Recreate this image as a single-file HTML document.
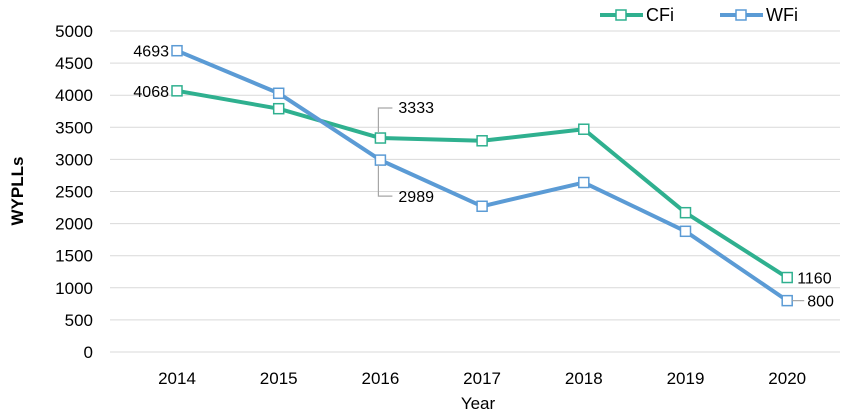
<!DOCTYPE html>
<html><head><meta charset="utf-8"><style>
body{margin:0;background:#fff;width:850px;height:415px;overflow:hidden;font-family:"Liberation Sans",sans-serif}
</style></head><body>
<svg id="chart" width="850" height="415" xmlns="http://www.w3.org/2000/svg" font-family="Liberation Sans, sans-serif"></svg>
<script>
const years=[2014,2015,2016,2017,2018,2019,2020];
const cfi=[4068,3790,3333,3290,3470,2170,1160];
const wfi=[4693,4030,2989,2270,2640,1880,800];
const yTicks=[0,500,1000,1500,2000,2500,3000,3500,4000,4500,5000];
const svg=document.getElementById('chart');
const NS='http://www.w3.org/2000/svg';
function x(i){return 177+i*101.7;}
function y(v){return 352-v*(321/5000);}
function mk(tag,attrs,parent){const e=document.createElementNS(NS,tag);for(const k in attrs)e.setAttribute(k,attrs[k]);(parent||svg).appendChild(e);return e;}
yTicks.forEach(t=>{
  const g=mk('line',{x1:110,x2:840,y1:y(t),y2:y(t),stroke:'#d9d9d9','stroke-width':1});
  
  
  const l=mk('text',{x:93,y:y(t)+6,'text-anchor':'end','font-size':17,fill:'#000'});
  l.textContent=t;
  
  
});
years.forEach((yr,i)=>{
  const l=mk('text',{x:x(i),y:384,'text-anchor':'middle','font-size':17,fill:'#000'});
  l.textContent=yr;
  
  
});
const xt=mk('text',{x:478,y:409,'text-anchor':'middle','font-size':17});xt.textContent='Year';


const yt=mk('text',{x:23,y:191,'text-anchor':'middle','font-size':17,'font-weight':'bold',transform:'rotate(-90 23 191)'});yt.textContent='WYPLLs';


function series(vals,color,name){
  const p=mk('polyline',{points:vals.map((v,i)=>x(i)+','+y(v)).join(' '),fill:'none',stroke:color,'stroke-width':4,'stroke-linejoin':'round'});
  
  
  vals.forEach((v,i)=>{
    const r=mk('rect',{x:x(i)-5,y:y(v)-5,width:10,height:10,fill:'#fff',stroke:color,'stroke-width':1.5});
    
    
  });
}
series(cfi,'#2fb08f','cfi');
series(wfi,'#5b9bd5','wfi');
function label(txt,lx,ly,anchor){
  const t=mk('text',{x:lx,y:ly,'text-anchor':anchor||'start','font-size':16});t.textContent=txt;
  
  
}
label(wfi[0],x(0)-8,y(wfi[0])+6,'end');
label(cfi[0],x(0)-8,y(cfi[0])+6,'end');
label(cfi[2],x(2)+18,y(cfi[2])-25);
label(wfi[2],x(2)+18,y(wfi[2])+42);
label(cfi[6],x(6)+10,y(cfi[6])+6);
label(wfi[6],x(6)+20,y(wfi[6])+6);
const c1=mk('polyline',{points:`${x(2)-2},${y(cfi[2])-5} ${x(2)-2},${y(cfi[2])-30} ${x(2)+12},${y(cfi[2])-30}`,fill:'none',stroke:'#a6a6a6','stroke-width':1.2});


const c2=mk('polyline',{points:`${x(2)-2},${y(wfi[2])+5} ${x(2)-2},${y(wfi[2])+36} ${x(2)+12},${y(wfi[2])+36}`,fill:'none',stroke:'#a6a6a6','stroke-width':1.2});


const c3=mk('line',{x1:x(6)+5,y1:y(wfi[6]),x2:x(6)+17,y2:y(wfi[6]),stroke:'#a6a6a6','stroke-width':1.2});


const leg=[['CFi','#2fb08f',600],['WFi','#5b9bd5',720]];
leg.forEach(([n,c,lx])=>{
  const l=mk('line',{x1:lx,x2:lx+43,y1:15,y2:15,stroke:c,'stroke-width':4});
  
  
  const r=mk('rect',{x:lx+16,y:10,width:10,height:10,fill:'#fff',stroke:c,'stroke-width':1.5});
  
  
  const t=mk('text',{x:lx+46,y:21,'font-size':18});t.textContent=n;
  
  
});
</script>
</body></html>
